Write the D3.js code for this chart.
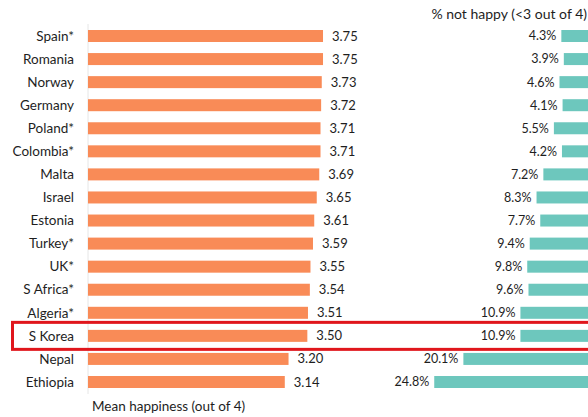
<!DOCTYPE html>
<html><head><meta charset="utf-8">
<script src="https://cdn.jsdelivr.net/npm/d3@7"></script>
<style>html,body{margin:0;padding:0;background:#fff;overflow:hidden}</style>
</head><body>
<script>
const countries = ["Spain*","Romania","Norway","Germany","Poland*","Colombia*","Malta","Israel","Estonia","Turkey*","UK*","S Africa*","Algeria*","S Korea","Nepal","Ethiopia"];
const meanHappiness = [3.75,3.75,3.73,3.72,3.71,3.71,3.69,3.65,3.61,3.59,3.55,3.54,3.51,3.50,3.20,3.14];
const meanLabels = ["3.75","3.75","3.73","3.72","3.71","3.71","3.69","3.65","3.61","3.59","3.55","3.54","3.51","3.50","3.20","3.14"];
const notHappy = [4.3,3.9,4.6,4.1,5.5,4.2,7.2,8.3,7.7,9.4,9.8,9.6,10.9,10.9,20.1,24.8];
const highlight = "S Korea";
const leftTitle = "Mean happiness (out of 4)";
const rightTitle = "% not happy (<3 out of 4)";

const W = 588, H = 417;
const font = "Lato, 'Open Sans', sans-serif";
const svg = d3.select("body").append("svg").attr("width", W).attr("height", H)
  .style("font-family", font);

const y = d3.scalePoint().domain(countries).range([36, 382]);
const barH = 12;
const xL = d3.scaleLinear().domain([0, 4]).range([88, 88 + 4 * 62.67]);
const xR = d3.scaleLinear().domain([0, 25]).range([588, 588 - 25 * 6.2]);

const rows = countries.map((c, i) => ({c, m: meanHappiness[i], ml: meanLabels[i], n: notHappy[i]}));

// baseline axis line
svg.append("line").attr("x1", xL(0)).attr("x2", xL(0)).attr("y1", 24).attr("y2", 394)
  .attr("stroke", "#e6e6e6").attr("stroke-width", 1);

// country labels
svg.append("g").selectAll("text").data(rows).join("text")
  .attr("x", 74).attr("y", d => y(d.c)).attr("dy", "0.35em")
  .attr("text-anchor", "end").attr("font-size", 13.5).attr("fill", "#1e1e1e")
  .text(d => d.c);

// orange bars
svg.append("g").selectAll("rect").data(rows).join("rect")
  .attr("x", xL(0)).attr("y", d => y(d.c) - barH / 2)
  .attr("width", d => xL(d.m) - xL(0)).attr("height", barH)
  .attr("fill", "#f98b57");

svg.append("g").selectAll("text").data(rows).join("text")
  .attr("x", d => xL(d.m) + 9).attr("y", d => y(d.c)).attr("dy", "0.35em")
  .attr("font-size", 13).attr("fill", "#1e1e1e")
  .text(d => d.ml);

// teal bars
svg.append("g").selectAll("rect").data(rows).join("rect")
  .attr("x", d => xR(d.n)).attr("y", d => y(d.c) - barH / 2)
  .attr("width", d => xR(0) - xR(d.n)).attr("height", barH)
  .attr("fill", "#6dc7bd");

svg.append("g").selectAll("text").data(rows).join("text")
  .attr("x", d => xR(d.n) - 5).attr("y", d => y(d.c)).attr("dy", "0.35em")
  .attr("text-anchor", "end").attr("font-size", 12.5).attr("fill", "#1e1e1e")
  .text(d => d.n.toFixed(1) + "%");

// highlight box
svg.append("rect").attr("x", 12.5).attr("y", y(highlight) - 13.5)
  .attr("width", W).attr("height", 27)
  .attr("fill", "none").attr("stroke", "#e0161c").attr("stroke-width", 3);

// titles
svg.append("text").attr("x", 92).attr("y", 411).attr("font-size", 13.5).attr("fill", "#1e1e1e").text(leftTitle);
svg.append("text").attr("x", 587).attr("y", 19).attr("text-anchor", "end").attr("font-size", 14).attr("fill", "#1e1e1e").text(rightTitle);
</script>
</body></html>
